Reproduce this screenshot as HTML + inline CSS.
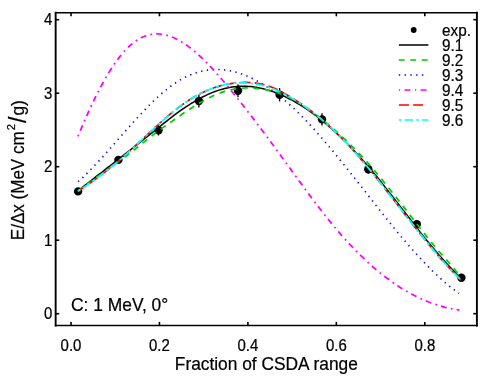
<!DOCTYPE html>
<html><head><meta charset="utf-8"><title>chart</title>
<style>
html,body{margin:0;padding:0;background:#fff;}
svg{display:block;will-change:transform;opacity:0.999;}
text{font-family:"Liberation Sans",sans-serif;fill:#000;stroke:#000;stroke-width:0.22px;}
</style></head>
<body>
<svg width="491" height="381" viewBox="0 0 491 381">
<rect width="491" height="381" fill="#fff"/>
<g fill="none" stroke-linecap="butt" stroke-linejoin="round">
<g><circle cx="78.1" cy="191.4" r="4.2" fill="#000"/><circle cx="118.4" cy="159.9" r="4.2" fill="#000"/><line x1="158.5" y1="125.1" x2="158.5" y2="135.5" stroke="#000" stroke-width="1.3"/><circle cx="158.5" cy="130.3" r="4.2" fill="#000"/><line x1="198.9" y1="94.5" x2="198.9" y2="107.5" stroke="#000" stroke-width="1.3"/><circle cx="198.9" cy="101.0" r="4.2" fill="#000"/><line x1="238.0" y1="84.3" x2="238.0" y2="97.3" stroke="#000" stroke-width="1.3"/><circle cx="238.0" cy="90.8" r="4.2" fill="#000"/><line x1="279.6" y1="88.0" x2="279.6" y2="101.4" stroke="#000" stroke-width="1.3"/><circle cx="279.6" cy="94.7" r="4.2" fill="#000"/><line x1="322.0" y1="113.2" x2="322.0" y2="125.6" stroke="#000" stroke-width="1.3"/><circle cx="322.0" cy="119.4" r="4.2" fill="#000"/><line x1="368.3" y1="164.9" x2="368.3" y2="173.7" stroke="#000" stroke-width="1.3"/><circle cx="368.3" cy="169.3" r="4.2" fill="#000"/><circle cx="416.8" cy="224.3" r="4.2" fill="#000"/><circle cx="461.4" cy="277.8" r="4.2" fill="#000"/></g>
<path d="M78.0,191.1 L80.4,189.1 L82.8,187.1 L85.2,185.2 L87.6,183.3 L90.0,181.4 L92.4,179.5 L94.8,177.6 L97.2,175.7 L99.7,173.8 L102.1,172.0 L104.5,170.1 L106.9,168.2 L109.3,166.4 L111.7,164.5 L114.1,162.7 L116.5,160.8 L118.9,158.9 L121.3,157.0 L123.7,155.2 L126.1,153.3 L128.5,151.4 L130.9,149.5 L133.3,147.6 L135.7,145.7 L138.1,143.8 L140.5,141.8 L143.0,139.9 L145.4,138.0 L147.8,136.1 L150.2,134.2 L152.6,132.3 L155.0,130.3 L157.4,128.4 L159.8,126.5 L162.2,124.6 L164.6,122.7 L167.0,120.8 L169.4,118.9 L171.8,117.1 L174.2,115.2 L176.6,113.4 L179.0,111.7 L181.4,109.9 L183.8,108.3 L186.3,106.6 L188.7,105.1 L191.1,103.5 L193.5,102.1 L195.9,100.6 L198.3,99.3 L200.7,98.0 L203.1,96.7 L205.5,95.6 L207.9,94.4 L210.3,93.4 L212.7,92.4 L215.1,91.5 L217.5,90.6 L219.9,89.9 L222.3,89.2 L224.7,88.5 L227.2,87.9 L229.6,87.5 L232.0,87.1 L234.4,86.7 L236.8,86.5 L239.2,86.3 L241.6,86.2 L244.0,86.2 L246.4,86.2 L248.8,86.4 L251.2,86.6 L253.6,86.9 L256.0,87.2 L258.4,87.7 L260.8,88.2 L263.2,88.7 L265.6,89.4 L268.0,90.1 L270.5,90.8 L272.9,91.6 L275.3,92.5 L277.7,93.4 L280.1,94.4 L282.5,95.5 L284.9,96.6 L287.3,97.8 L289.7,99.0 L292.1,100.2 L294.5,101.6 L296.9,103.0 L299.3,104.4 L301.7,105.9 L304.1,107.4 L306.5,109.0 L308.9,110.7 L311.3,112.4 L313.8,114.1 L316.2,115.9 L318.6,117.8 L321.0,119.7 L323.4,121.7 L325.8,123.7 L328.2,125.7 L330.6,127.8 L333.0,129.9 L335.4,132.1 L337.8,134.4 L340.2,136.7 L342.6,139.0 L345.0,141.4 L347.4,143.8 L349.8,146.2 L352.2,148.8 L354.7,151.3 L357.1,153.9 L359.5,156.5 L361.9,159.2 L364.3,161.9 L366.7,164.7 L369.1,167.5 L371.5,170.3 L373.9,173.2 L376.3,176.1 L378.7,179.0 L381.1,182.0 L383.5,185.0 L385.9,188.1 L388.3,191.1 L390.7,194.2 L393.1,197.3 L395.5,200.4 L398.0,203.5 L400.4,206.6 L402.8,209.7 L405.2,212.8 L407.6,215.9 L410.0,219.0 L412.4,222.1 L414.8,225.2 L417.2,228.3 L419.6,231.4 L422.0,234.4 L424.4,237.4 L426.8,240.4 L429.2,243.3 L431.6,246.3 L434.0,249.1 L436.4,252.0 L438.8,254.8 L441.3,257.5 L443.7,260.3 L446.1,262.9 L448.5,265.5 L450.9,268.1 L453.3,270.6 L455.7,273.1 L458.1,275.5 L460.5,277.8" stroke="#000" stroke-width="1.5"/>
<path d="M78.0,191.1 L80.4,189.2 L82.8,187.4 L85.2,185.6 L87.6,183.8 L90.0,182.0 L92.4,180.3 L94.8,178.5 L97.2,176.8 L99.7,175.1 L102.1,173.4 L104.5,171.6 L106.9,169.9 L109.3,168.2 L111.7,166.5 L114.1,164.8 L116.5,163.0 L118.9,161.3 L121.3,159.5 L123.7,157.7 L126.1,156.0 L128.5,154.1 L130.9,152.3 L133.3,150.5 L135.7,148.6 L138.1,146.7 L140.5,144.8 L143.0,142.8 L145.4,140.9 L147.8,139.0 L150.2,137.1 L152.6,135.2 L155.0,133.4 L157.4,131.6 L159.8,129.9 L162.2,128.1 L164.6,126.4 L167.0,124.7 L169.4,123.0 L171.8,121.4 L174.2,119.7 L176.6,118.0 L179.0,116.4 L181.4,114.7 L183.8,113.1 L186.3,111.4 L188.7,109.9 L191.1,108.3 L193.5,106.7 L195.9,105.2 L198.3,103.8 L200.7,102.3 L203.1,101.0 L205.5,99.6 L207.9,98.4 L210.3,97.2 L212.7,96.0 L215.1,94.9 L217.5,93.9 L219.9,93.0 L222.3,92.1 L224.7,91.4 L227.2,90.7 L229.6,90.0 L232.0,89.5 L234.4,89.1 L236.8,88.7 L239.2,88.4 L241.6,88.2 L244.0,88.0 L246.4,87.9 L248.8,87.9 L251.2,88.0 L253.6,88.1 L256.0,88.3 L258.4,88.6 L260.8,88.9 L263.2,89.3 L265.6,89.7 L268.0,90.3 L270.5,90.8 L272.9,91.5 L275.3,92.2 L277.7,92.9 L280.1,93.8 L282.5,94.7 L284.9,95.7 L287.3,96.7 L289.7,97.8 L292.1,99.0 L294.5,100.3 L296.9,101.7 L299.3,103.1 L301.7,104.6 L304.1,106.2 L306.5,107.8 L308.9,109.5 L311.3,111.3 L313.8,113.0 L316.2,114.9 L318.6,116.7 L321.0,118.6 L323.4,120.6 L325.8,122.5 L328.2,124.5 L330.6,126.6 L333.0,128.6 L335.4,130.7 L337.8,132.9 L340.2,135.0 L342.6,137.3 L345.0,139.5 L347.4,141.8 L349.8,144.1 L352.2,146.5 L354.7,148.9 L357.1,151.4 L359.5,153.9 L361.9,156.5 L364.3,159.1 L366.7,161.7 L369.1,164.4 L371.5,167.2 L373.9,170.0 L376.3,172.8 L378.7,175.7 L381.1,178.6 L383.5,181.5 L385.9,184.5 L388.3,187.5 L390.7,190.5 L393.1,193.5 L395.5,196.6 L398.0,199.7 L400.4,202.7 L402.8,205.8 L405.2,208.9 L407.6,212.0 L410.0,215.1 L412.4,218.2 L414.8,221.3 L417.2,224.4 L419.6,227.5 L422.0,230.6 L424.4,233.6 L426.8,236.6 L429.2,239.6 L431.6,242.6 L434.0,245.5 L436.4,248.4 L438.8,251.2 L441.3,254.0 L443.7,256.7 L446.1,259.5 L448.5,262.2 L450.9,265.0 L453.3,267.9 L455.7,270.7 L458.1,273.7 L460.5,276.8" stroke="#00cc00" stroke-width="1.75" stroke-dasharray="5.9 5.6"/>
<path d="M78.1,181.7 L80.5,179.5 L82.9,177.3 L85.3,175.0 L87.7,172.7 L90.0,170.3 L92.4,167.8 L94.8,165.3 L97.2,162.8 L99.6,160.2 L102.0,157.6 L104.4,154.9 L106.8,152.2 L109.2,149.5 L111.6,146.8 L114.0,144.1 L116.4,141.3 L118.8,138.6 L121.2,135.9 L123.6,133.1 L126.0,130.4 L128.4,127.7 L130.8,125.0 L133.2,122.3 L135.6,119.7 L138.0,117.1 L140.4,114.5 L142.8,111.9 L145.2,109.4 L147.5,107.0 L149.9,104.6 L152.3,102.2 L154.7,99.9 L157.1,97.7 L159.5,95.5 L161.9,93.4 L164.3,91.4 L166.7,89.4 L169.1,87.5 L171.5,85.7 L173.9,84.0 L176.3,82.4 L178.7,80.9 L181.1,79.4 L183.5,78.1 L185.9,76.9 L188.3,75.8 L190.7,74.7 L193.1,73.8 L195.5,72.9 L197.9,72.2 L200.3,71.5 L202.7,71.0 L205.0,70.5 L207.4,70.1 L209.8,69.8 L212.2,69.6 L214.6,69.5 L217.0,69.5 L219.4,69.5 L221.8,69.7 L224.2,69.9 L226.6,70.2 L229.0,70.6 L231.4,71.1 L233.8,71.6 L236.2,72.2 L238.6,72.9 L241.0,73.7 L243.4,74.6 L245.8,75.5 L248.2,76.5 L250.6,77.6 L253.0,78.8 L255.4,80.0 L257.8,81.3 L260.1,82.6 L262.5,84.1 L264.9,85.6 L267.3,87.1 L269.7,88.7 L272.1,90.4 L274.5,92.2 L276.9,94.0 L279.3,95.9 L281.7,97.8 L284.1,99.8 L286.5,101.9 L288.9,104.0 L291.3,106.2 L293.7,108.4 L296.1,110.7 L298.5,113.0 L300.9,115.4 L303.3,117.8 L305.7,120.3 L308.1,122.8 L310.5,125.4 L312.9,128.0 L315.3,130.6 L317.6,133.3 L320.0,136.0 L322.4,138.8 L324.8,141.6 L327.2,144.4 L329.6,147.2 L332.0,150.1 L334.4,153.0 L336.8,155.9 L339.2,158.9 L341.6,161.8 L344.0,164.8 L346.4,167.8 L348.8,170.8 L351.2,173.8 L353.6,176.9 L356.0,179.9 L358.4,183.0 L360.8,186.0 L363.2,189.1 L365.6,192.1 L368.0,195.2 L370.4,198.2 L372.8,201.3 L375.1,204.3 L377.5,207.4 L379.9,210.4 L382.3,213.4 L384.7,216.4 L387.1,219.4 L389.5,222.4 L391.9,225.4 L394.3,228.3 L396.7,231.2 L399.1,234.1 L401.5,237.0 L403.9,239.8 L406.3,242.6 L408.7,245.4 L411.1,248.1 L413.5,250.9 L415.9,253.5 L418.3,256.2 L420.7,258.8 L423.1,261.3 L425.5,263.8 L427.9,266.3 L430.3,268.7 L432.6,271.1 L435.0,273.4 L437.4,275.6 L439.8,277.8 L442.2,280.0 L444.6,282.1 L447.0,284.1 L449.4,286.1 L451.8,288.0 L454.2,289.8 L456.6,291.6 L459.0,293.3" stroke="#0000ff" stroke-width="1.65" stroke-dasharray="1.3 4.47"/>
<path d="M78.0,136.3 L80.4,130.5 L82.8,124.8 L85.2,119.3 L87.6,113.9 L90.0,108.6 L92.4,103.5 L94.8,98.5 L97.2,93.7 L99.6,89.0 L102.0,84.5 L104.4,80.2 L106.8,76.0 L109.2,72.0 L111.6,68.2 L114.0,64.6 L116.4,61.2 L118.8,57.9 L121.2,54.9 L123.6,52.1 L126.0,49.4 L128.4,47.0 L130.8,44.8 L133.2,42.8 L135.6,41.0 L138.0,39.5 L140.4,38.1 L142.8,37.0 L145.2,36.0 L147.6,35.2 L150.0,34.6 L152.4,34.2 L154.8,34.0 L157.2,33.9 L159.6,34.0 L162.0,34.3 L164.4,34.7 L166.8,35.3 L169.2,36.0 L171.6,36.8 L173.9,37.8 L176.3,39.0 L178.7,40.2 L181.1,41.6 L183.5,43.1 L185.9,44.7 L188.3,46.4 L190.7,48.3 L193.1,50.2 L195.5,52.2 L197.9,54.3 L200.3,56.5 L202.7,58.8 L205.1,61.2 L207.5,63.6 L209.9,66.1 L212.3,68.7 L214.7,71.3 L217.1,74.0 L219.5,76.7 L221.9,79.5 L224.3,82.3 L226.7,85.2 L229.1,88.1 L231.5,91.0 L233.9,94.0 L236.3,96.9 L238.7,99.9 L241.1,103.0 L243.5,106.0 L245.9,109.1 L248.3,112.2 L250.7,115.3 L253.1,118.4 L255.5,121.5 L257.9,124.7 L260.3,127.9 L262.7,131.1 L265.1,134.3 L267.5,137.5 L269.9,140.8 L272.3,144.0 L274.7,147.3 L277.1,150.6 L279.5,153.9 L281.9,157.2 L284.3,160.5 L286.7,163.8 L289.1,167.1 L291.5,170.4 L293.9,173.8 L296.3,177.1 L298.7,180.4 L301.1,183.6 L303.5,186.9 L305.9,190.2 L308.3,193.4 L310.7,196.6 L313.1,199.8 L315.5,203.0 L317.9,206.2 L320.3,209.3 L322.7,212.4 L325.1,215.4 L327.5,218.4 L329.9,221.4 L332.3,224.4 L334.7,227.3 L337.1,230.1 L339.5,232.9 L341.9,235.7 L344.3,238.4 L346.7,241.0 L349.1,243.6 L351.5,246.2 L353.9,248.7 L356.3,251.2 L358.7,253.6 L361.1,255.9 L363.5,258.2 L365.8,260.5 L368.2,262.7 L370.6,264.8 L373.0,267.0 L375.4,269.0 L377.8,271.0 L380.2,273.0 L382.6,274.9 L385.0,276.7 L387.4,278.5 L389.8,280.3 L392.2,282.0 L394.6,283.7 L397.0,285.3 L399.4,286.9 L401.8,288.4 L404.2,289.8 L406.6,291.2 L409.0,292.6 L411.4,293.9 L413.8,295.2 L416.2,296.4 L418.6,297.6 L421.0,298.7 L423.4,299.8 L425.8,300.8 L428.2,301.8 L430.6,302.7 L433.0,303.6 L435.4,304.4 L437.8,305.2 L440.2,305.9 L442.6,306.6 L445.0,307.3 L447.4,307.8 L449.8,308.4 L452.2,308.9 L454.6,309.3 L457.0,309.7 L459.4,310.1" stroke="#ff00ff" stroke-width="1.75" stroke-dasharray="1.7 4.15 5.9 4.35"/>
<path d="M78.0,191.1 L80.4,189.6 L82.8,188.0 L85.2,186.4 L87.6,184.7 L90.0,183.0 L92.5,181.3 L94.9,179.6 L97.3,177.9 L99.7,176.1 L102.1,174.3 L104.5,172.4 L106.9,170.6 L109.3,168.6 L111.7,166.7 L114.1,164.7 L116.5,162.7 L118.9,160.6 L121.4,158.6 L123.8,156.4 L126.2,154.3 L128.6,152.1 L131.0,149.9 L133.4,147.7 L135.8,145.4 L138.2,143.2 L140.6,140.9 L143.0,138.7 L145.4,136.4 L147.9,134.2 L150.3,131.9 L152.7,129.7 L155.1,127.5 L157.5,125.3 L159.9,123.1 L162.3,121.0 L164.7,118.8 L167.1,116.8 L169.5,114.7 L171.9,112.7 L174.4,110.8 L176.8,108.9 L179.2,107.0 L181.6,105.2 L184.0,103.5 L186.4,101.9 L188.8,100.3 L191.2,98.7 L193.6,97.3 L196.0,95.9 L198.4,94.6 L200.8,93.3 L203.3,92.2 L205.7,91.1 L208.1,90.0 L210.5,89.1 L212.9,88.2 L215.3,87.3 L217.7,86.6 L220.1,85.9 L222.5,85.2 L224.9,84.7 L227.3,84.2 L229.8,83.8 L232.2,83.4 L234.6,83.1 L237.0,82.8 L239.4,82.6 L241.8,82.5 L244.2,82.4 L246.6,82.4 L249.0,82.5 L251.4,82.6 L253.8,82.8 L256.3,83.1 L258.7,83.5 L261.1,84.0 L263.5,84.5 L265.9,85.2 L268.3,86.0 L270.7,86.8 L273.1,87.8 L275.5,88.9 L277.9,90.0 L280.3,91.3 L282.7,92.5 L285.2,93.9 L287.6,95.3 L290.0,96.7 L292.4,98.2 L294.8,99.8 L297.2,101.3 L299.6,102.9 L302.0,104.6 L304.4,106.2 L306.8,108.0 L309.2,109.7 L311.7,111.5 L314.1,113.4 L316.5,115.3 L318.9,117.2 L321.3,119.2 L323.7,121.3 L326.1,123.4 L328.5,125.5 L330.9,127.7 L333.3,129.9 L335.7,132.2 L338.2,134.5 L340.6,136.9 L343.0,139.4 L345.4,141.9 L347.8,144.4 L350.2,147.0 L352.6,149.7 L355.0,152.4 L357.4,155.1 L359.8,157.9 L362.2,160.7 L364.6,163.6 L367.1,166.5 L369.5,169.4 L371.9,172.3 L374.3,175.3 L376.7,178.3 L379.1,181.3 L381.5,184.3 L383.9,187.4 L386.3,190.5 L388.7,193.5 L391.1,196.6 L393.6,199.7 L396.0,202.8 L398.4,205.9 L400.8,209.0 L403.2,212.1 L405.6,215.2 L408.0,218.3 L410.4,221.4 L412.8,224.5 L415.2,227.5 L417.6,230.6 L420.1,233.6 L422.5,236.6 L424.9,239.6 L427.3,242.5 L429.7,245.5 L432.1,248.4 L434.5,251.2 L436.9,254.1 L439.3,256.9 L441.7,259.6 L444.1,262.3 L446.5,265.0 L449.0,267.6 L451.4,270.2 L453.8,272.7 L456.2,275.2 L458.6,277.6 L461.0,280.0" stroke="#ff0000" stroke-width="1.75" stroke-dasharray="10 4.2"/>
<path d="M78.0,191.1 L80.4,189.6 L82.8,188.0 L85.2,186.4 L87.6,184.7 L90.0,183.0 L92.5,181.3 L94.9,179.6 L97.3,177.9 L99.7,176.1 L102.1,174.3 L104.5,172.4 L106.9,170.6 L109.3,168.6 L111.7,166.7 L114.1,164.7 L116.5,162.7 L118.9,160.6 L121.4,158.6 L123.8,156.4 L126.2,154.3 L128.6,152.1 L131.0,149.9 L133.4,147.7 L135.8,145.4 L138.2,143.2 L140.6,140.9 L143.0,138.7 L145.4,136.4 L147.9,134.2 L150.3,131.9 L152.7,129.7 L155.1,127.5 L157.5,125.3 L159.9,123.1 L162.3,121.0 L164.7,118.8 L167.1,116.8 L169.5,114.7 L171.9,112.7 L174.4,110.8 L176.8,108.9 L179.2,107.0 L181.6,105.2 L184.0,103.5 L186.4,101.9 L188.8,100.3 L191.2,98.7 L193.6,97.3 L196.0,95.9 L198.4,94.6 L200.8,93.3 L203.3,92.2 L205.7,91.1 L208.1,90.0 L210.5,89.1 L212.9,88.2 L215.3,87.3 L217.7,86.6 L220.1,85.9 L222.5,85.3 L224.9,84.7 L227.3,84.2 L229.8,83.8 L232.2,83.5 L234.6,83.2 L237.0,83.1 L239.4,82.9 L241.8,82.9 L244.2,82.9 L246.6,83.0 L249.0,83.2 L251.4,83.4 L253.8,83.7 L256.3,84.1 L258.7,84.6 L261.1,85.1 L263.5,85.7 L265.9,86.4 L268.3,87.1 L270.7,88.0 L273.1,88.9 L275.5,89.8 L277.9,90.9 L280.3,92.0 L282.7,93.2 L285.2,94.4 L287.6,95.7 L290.0,97.1 L292.4,98.5 L294.8,99.9 L297.2,101.5 L299.6,103.0 L302.0,104.6 L304.4,106.3 L306.8,108.0 L309.2,109.8 L311.7,111.6 L314.1,113.4 L316.5,115.3 L318.9,117.2 L321.3,119.2 L323.7,121.3 L326.1,123.4 L328.5,125.5 L330.9,127.7 L333.3,129.9 L335.7,132.2 L338.2,134.5 L340.6,136.9 L343.0,139.4 L345.4,141.9 L347.8,144.4 L350.2,147.0 L352.6,149.7 L355.0,152.4 L357.4,155.1 L359.8,157.9 L362.2,160.7 L364.6,163.6 L367.1,166.5 L369.5,169.4 L371.9,172.3 L374.3,175.3 L376.7,178.3 L379.1,181.3 L381.5,184.3 L383.9,187.4 L386.3,190.5 L388.7,193.5 L391.1,196.6 L393.6,199.7 L396.0,202.8 L398.4,205.9 L400.8,209.0 L403.2,212.1 L405.6,215.2 L408.0,218.3 L410.4,221.4 L412.8,224.5 L415.2,227.5 L417.6,230.6 L420.1,233.6 L422.5,236.6 L424.9,239.6 L427.3,242.5 L429.7,245.5 L432.1,248.4 L434.5,251.2 L436.9,254.1 L439.3,256.9 L441.7,259.6 L444.1,262.3 L446.5,265.0 L449.0,267.6 L451.4,270.2 L453.8,272.7 L456.2,275.2 L458.6,277.6 L461.0,280.0" stroke="#00ffff" stroke-width="1.75" stroke-dasharray="2.9 2.7 8.5 3.3"/>
</g>
<g stroke="#000" fill="none" stroke-linecap="square">
<line x1="55.65" y1="12.7" x2="55.65" y2="325.5" stroke-width="1.9"/>
<line x1="476.9" y1="12.7" x2="476.9" y2="325.5" stroke-width="1.9"/>
<line x1="55.65" y1="12.7" x2="476.9" y2="12.7" stroke-width="1.5"/>
<line x1="55.65" y1="325.5" x2="476.9" y2="325.5" stroke-width="1.6"/>
</g>
<g stroke="#000" stroke-width="1.6"><line x1="71.00" y1="325.5" x2="71.00" y2="321.9" /><line x1="71.00" y1="12.7" x2="71.00" y2="16.3" /><line x1="159.45" y1="325.5" x2="159.45" y2="321.9" /><line x1="159.45" y1="12.7" x2="159.45" y2="16.3" /><line x1="247.90" y1="325.5" x2="247.90" y2="321.9" /><line x1="247.90" y1="12.7" x2="247.90" y2="16.3" /><line x1="336.35" y1="325.5" x2="336.35" y2="321.9" /><line x1="336.35" y1="12.7" x2="336.35" y2="16.3" /><line x1="424.80" y1="325.5" x2="424.80" y2="321.9" /><line x1="424.80" y1="12.7" x2="424.80" y2="16.3" /><line x1="55.65" y1="313.70" x2="59.25" y2="313.70" /><line x1="476.9" y1="313.70" x2="473.29999999999995" y2="313.70" /><line x1="55.65" y1="240.20" x2="59.25" y2="240.20" /><line x1="476.9" y1="240.20" x2="473.29999999999995" y2="240.20" /><line x1="55.65" y1="166.70" x2="59.25" y2="166.70" /><line x1="476.9" y1="166.70" x2="473.29999999999995" y2="166.70" /><line x1="55.65" y1="93.20" x2="59.25" y2="93.20" /><line x1="476.9" y1="93.20" x2="473.29999999999995" y2="93.20" /><line x1="55.65" y1="19.70" x2="59.25" y2="19.70" /><line x1="476.9" y1="19.70" x2="473.29999999999995" y2="19.70" /></g>
<g font-size="15px"><text transform="translate(71.0,350.6) scale(1,1.1)" font-size="15px" text-anchor="middle">0.0</text><text transform="translate(159.4,350.6) scale(1,1.1)" font-size="15px" text-anchor="middle">0.2</text><text transform="translate(247.9,350.6) scale(1,1.1)" font-size="15px" text-anchor="middle">0.4</text><text transform="translate(336.4,350.6) scale(1,1.1)" font-size="15px" text-anchor="middle">0.6</text><text transform="translate(424.8,350.6) scale(1,1.1)" font-size="15px" text-anchor="middle">0.8</text><text transform="translate(52.3,319.4) scale(1,1.05)" font-size="15px" text-anchor="end">0</text><text transform="translate(52.3,245.9) scale(1,1.05)" font-size="15px" text-anchor="end">1</text><text transform="translate(52.3,172.4) scale(1,1.05)" font-size="15px" text-anchor="end">2</text><text transform="translate(52.3,98.9) scale(1,1.05)" font-size="15px" text-anchor="end">3</text><text transform="translate(52.3,25.4) scale(1,1.05)" font-size="15px" text-anchor="end">4</text></g>
<g font-size="15px"><text transform="translate(442.0,35.9) scale(1,1.05)" font-size="15.3px" text-anchor="start">exp.</text><text transform="translate(442.0,50.9) scale(1,1.05)" font-size="15.3px" text-anchor="start">9.1</text><text transform="translate(442.0,65.9) scale(1,1.05)" font-size="15.3px" text-anchor="start">9.2</text><text transform="translate(442.0,80.9) scale(1,1.05)" font-size="15.3px" text-anchor="start">9.3</text><text transform="translate(442.0,95.9) scale(1,1.05)" font-size="15.3px" text-anchor="start">9.4</text><text transform="translate(442.0,110.9) scale(1,1.05)" font-size="15.3px" text-anchor="start">9.5</text><text transform="translate(442.0,125.9) scale(1,1.05)" font-size="15.3px" text-anchor="start">9.6</text></g>
<g fill="none">
<circle cx="413.7" cy="30" r="2.9" fill="#000"/>
<line x1="398.8" y1="45" x2="428.4" y2="45" stroke="#000" stroke-width="1.5"/>
<line x1="398.8" y1="59.9" x2="428.4" y2="59.9" stroke="#00cc00" stroke-width="1.5" stroke-dasharray="5.9 5.6"/>
<line x1="398.8" y1="74.9" x2="424" y2="74.9" stroke="#0000ff" stroke-width="1.5" stroke-dasharray="1.4 4.37"/>
<line x1="398.9" y1="90" x2="428.4" y2="90" stroke="#ff00ff" stroke-width="1.5" stroke-dasharray="1.2 4.4 5.9 4.6"/>
<line x1="398.9" y1="104.9" x2="423.2" y2="104.9" stroke="#ff0000" stroke-width="1.5" stroke-dasharray="10 4.2"/>
<line x1="398.9" y1="120.1" x2="428.4" y2="120.1" stroke="#00ffff" stroke-width="1.5" stroke-dasharray="2.9 2.7 8.5 3.3"/>
</g>
<text transform="translate(71.0,311.4) scale(1,1.05)" font-size="17.4px" text-anchor="start">C: 1 MeV, 0°</text>
<text transform="translate(266.3,369.6) scale(1,1.05)" font-size="17.35px" text-anchor="middle">Fraction of CSDA range</text>
<g id="ylab">
<text transform="translate(23.9,240.2) rotate(-90) scale(1,1.05)" font-size="17.05px">E/Δx (MeV cm</text>
<text transform="translate(15.0,130.2) rotate(-90) scale(1,1.05)" font-size="11.2px">2</text>
<text transform="translate(26.3,123.0) rotate(-90) scale(1,1.05)" font-size="23px">/</text>
<text transform="translate(23.9,115.6) rotate(-90) scale(1,1.05)" font-size="17.4px">g)</text>
</g>
</svg>
</body></html>
